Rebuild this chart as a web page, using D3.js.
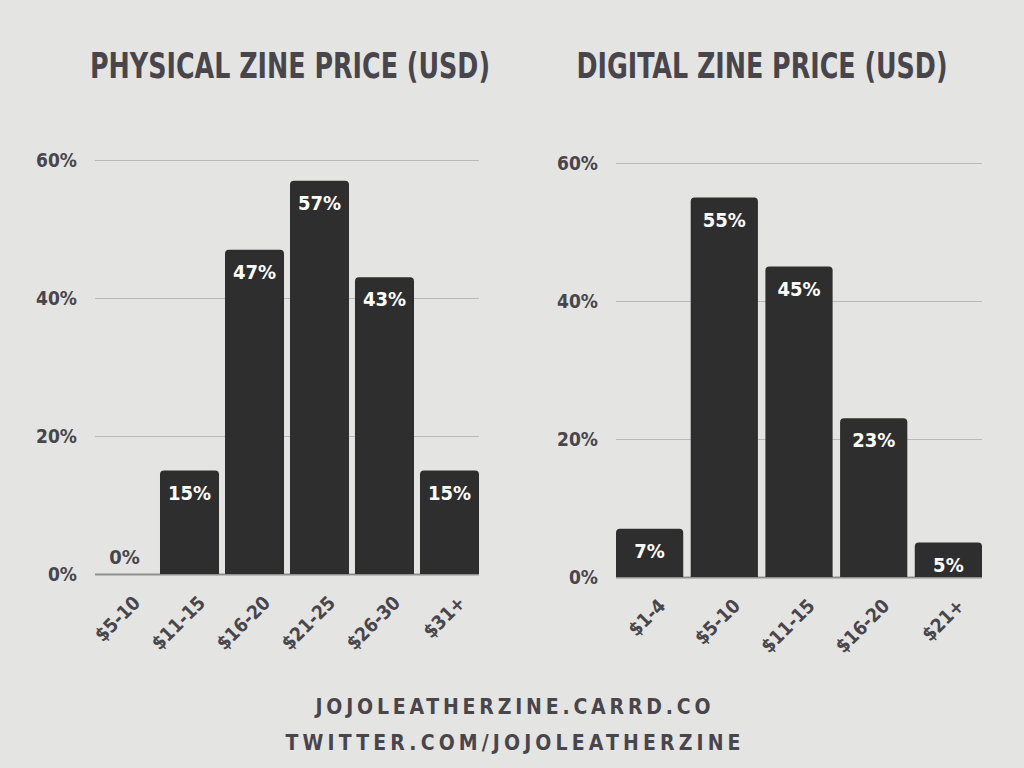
<!DOCTYPE html>
<html>
<head>
<meta charset="utf-8">
<script src="https://cdn.jsdelivr.net/npm/d3@7"></script>
<style>
  body { margin: 0; background: #e4e4e2; }
  text { font-family: "DejaVu Sans Condensed", "Liberation Sans Narrow", sans-serif; font-weight: bold; }
</style>
</head>
<body>
<div id="vis"></div>
<script>
// physical zine prices
var physCats = ['$5-10', '$11-15', '$16-20', '$21-25', '$26-30', '$31+'];
var physVals = [0, 15, 47, 57, 43, 15];

// digital zine prices
var digiCats = ['$1-4', '$5-10', '$11-15', '$16-20', '$21+'];
var digiVals = [7, 55, 45, 23, 5];

var yTicks = [0, 20, 40, 60];

var width = 1024;
var height = 768;
var textColor = '#48454c';
var barColor = '#2e2e2e';

var svg = d3.select('#vis')
            .append('svg')
            .attr('width', width)
            .attr('height', height)
            .style('display', 'block');

svg.append('rect')
    .attr('width', width)
    .attr('height', height)
    .attr('fill', '#e4e4e2');

// top-rounded bar path
function barPath(x, y, w, h, r) {
    if (h <= 0) return '';
    r = Math.min(r, h);
    return 'M' + x + ',' + (y + h) +
           'V' + (y + r) +
           'Q' + x + ',' + y + ' ' + (x + r) + ',' + y +
           'H' + (x + w - r) +
           'Q' + (x + w) + ',' + y + ' ' + (x + w) + ',' + (y + r) +
           'V' + (y + h) + 'Z';
}

function drawChart(opts) {
    var g = svg.append('g');

    var xScale = d3.scaleBand()
                    .domain(opts.cats)
                    .range([opts.left, opts.right])
                    .paddingInner(opts.pad)
                    .paddingOuter(0);

    var yScale = d3.scaleLinear()
                    .domain([0, 60])
                    .range([opts.bottom, opts.top]);

    // title
    svg.append('text')
        .attr('x', opts.titleX)
        .attr('y', 78)
        .attr('text-anchor', 'middle')
        .attr('fill', textColor)
        .attr('textLength', opts.titleLen)
        .attr('lengthAdjust', 'spacingAndGlyphs')
        .style('font-size', '35px')
        .text(opts.title);

    // gridlines
    g.selectAll('.grid')
        .data(yTicks)
        .enter()
        .append('line')
        .attr('x1', opts.left)
        .attr('x2', opts.right)
        .attr('y1', function(d) { return yScale(d) + 0.5; })
        .attr('y2', function(d) { return yScale(d) + 0.5; })
        .attr('stroke', function(d) { return d === 0 ? '#8f8f8f' : '#b9b9b9'; })
        .attr('stroke-width', function(d) { return d === 0 ? 2 : 1; });

    // y labels
    g.selectAll('.ylab')
        .data(yTicks)
        .enter()
        .append('text')
        .attr('x', opts.left - 18)
        .attr('y', function(d) { return yScale(d) + 7; })
        .attr('text-anchor', 'end')
        .attr('fill', textColor)
        .style('font-size', '19px')
        .text(function(d) { return d + '%'; });

    // bars
    g.selectAll('.bar')
        .data(opts.vals)
        .enter()
        .append('path')
        .attr('fill', barColor)
        .attr('d', function(d, i) {
            var x = xScale(opts.cats[i]);
            var y = yScale(d);
            return barPath(x, y, xScale.bandwidth(), yScale(0) - y, 4);
        });

    // value labels
    g.selectAll('.val')
        .data(opts.vals)
        .enter()
        .append('text')
        .attr('x', function(d, i) { return xScale(opts.cats[i]) + xScale.bandwidth() / 2; })
        .attr('y', function(d) { return d === 0 ? yScale(0) - 10 : yScale(d) + 29; })
        .attr('text-anchor', 'middle')
        .attr('fill', function(d) { return d === 0 ? textColor : '#ffffff'; })
        .style('font-size', '20px')
        .text(function(d) { return d + '%'; });

    // x labels, rotated
    g.selectAll('.xlab')
        .data(opts.cats)
        .enter()
        .append('text')
        .attr('transform', function(d) {
            var cx = xScale(d) + xScale.bandwidth() / 2 + 17;
            return 'translate(' + cx + ', ' + (opts.bottom + 30) + ') rotate(-45)';
        })
        .attr('text-anchor', 'end')
        .attr('fill', textColor)
        .style('font-size', '19px')
        .text(function(d) { return d; });
}

drawChart({
    title: 'PHYSICAL ZINE PRICE (USD)',
    titleX: 290,
    titleLen: 400,
    cats: physCats,
    vals: physVals,
    left: 95,
    right: 479,
    top: 160,
    bottom: 574,
    pad: 0.092
});

drawChart({
    title: 'DIGITAL ZINE PRICE (USD)',
    titleX: 762,
    titleLen: 371,
    cats: digiCats,
    vals: digiVals,
    left: 616,
    right: 982,
    top: 163,
    bottom: 577,
    pad: 0.1
});

// footer
svg.append('text')
    .attr('x', 513)
    .attr('y', 714)
    .attr('text-anchor', 'middle')
    .attr('fill', textColor)
    .attr('textLength', 395)
    .attr('lengthAdjust', 'spacing')
    .style('font-size', '21px')
    .text('JOJOLEATHERZINE.CARRD.CO');

svg.append('text')
    .attr('x', 513)
    .attr('y', 750)
    .attr('text-anchor', 'middle')
    .attr('fill', textColor)
    .attr('textLength', 455)
    .attr('lengthAdjust', 'spacing')
    .style('font-size', '21px')
    .text('TWITTER.COM/JOJOLEATHERZINE');
</script>
</body>
</html>
